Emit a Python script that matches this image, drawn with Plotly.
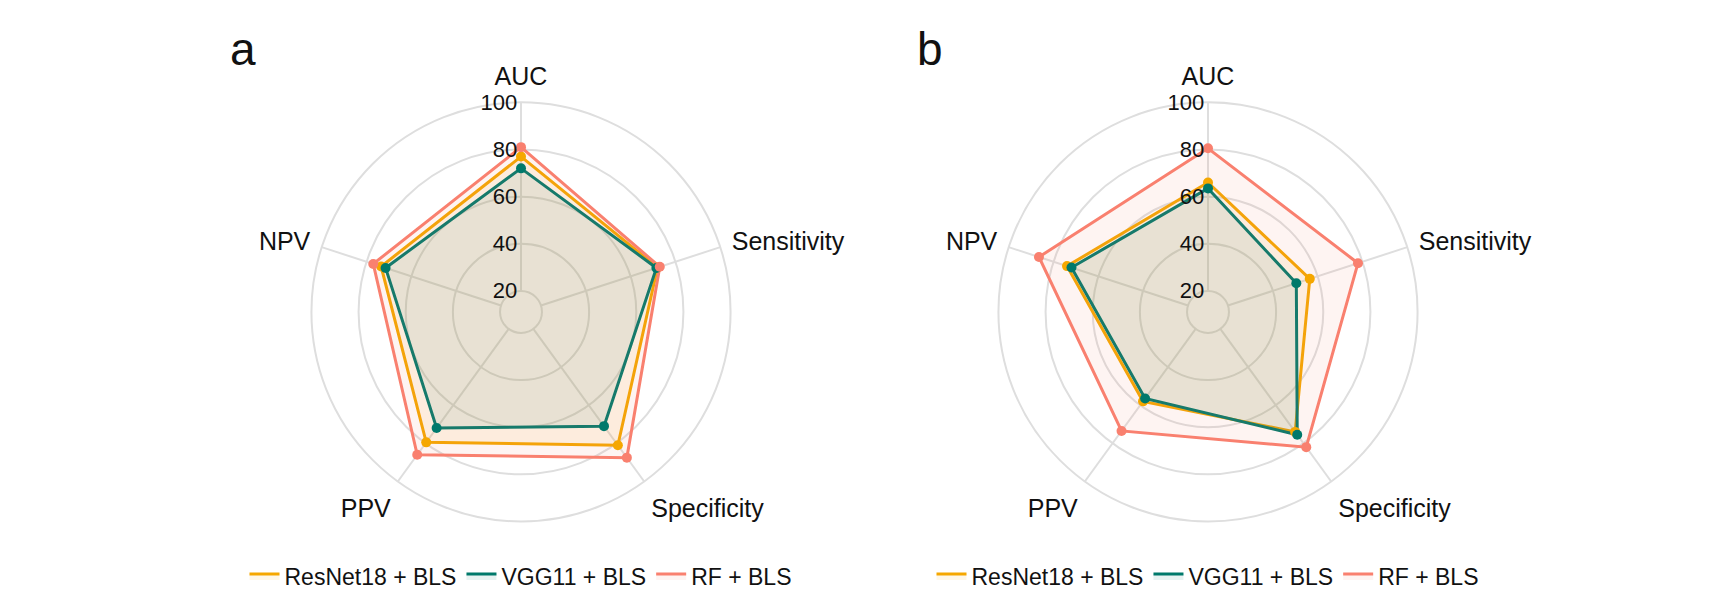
import plotly.graph_objects as go

W, H = 1718, 590

metrics = ["AUC", "Sensitivity", "Specificity", "PPV", "NPV"]
series_names = ["ResNet18 + BLS", "VGG11 + BLS", "RF + BLS"]

# panel a
a_resnet = [77, 72, 81, 79.5, 73.5]
a_vgg = [72, 71.5, 71, 72, 71.5]
a_rf = [81, 73, 87.5, 86, 77]

# panel b
b_resnet = [66, 56.5, 74, 58, 74]
b_vgg = [63.5, 50.5, 75.5, 56.5, 72]
b_rf = [80.5, 78, 82, 73.5, 86.5]

radial_ticks = [20, 40, 60, 80, 100]

colors = ["#F5A700", "#00796B", "#F9806F"]
fill_alpha = 0.09
FONT = "Arial, Liberation Sans, Helvetica, sans-serif"
GRID = "#dedede"


def hex_rgb(h):
    h = h.lstrip("#")
    return tuple(int(h[i:i + 2], 16) for i in (0, 2, 4))


def rgba(h, a):
    r, g, b = hex_rgb(h)
    return f"rgba({r},{g},{b},{a})"


# inner empty ring: the 20-circle sits at 10% of the radius
hole = 0.1
r_min = radial_ticks[0] - (radial_ticks[-1] - radial_ticks[0]) * hole / (1 - hole)

fig = go.Figure()

panels = [
    ("polar", "legend", [a_resnet, a_vgg, a_rf]),
    ("polar2", "legend2", [b_resnet, b_vgg, b_rf]),
]

for sub, leg, data in panels:
    # spokes from the inner circle to the outer circle
    for m in metrics:
        fig.add_trace(go.Scatterpolar(
            r=[radial_ticks[0], radial_ticks[-1]], theta=[m, m], mode="lines",
            line=dict(color=GRID, width=2), subplot=sub, showlegend=False,
            hoverinfo="skip",
        ))
    for si in range(3):
        vals = data[si]
        fig.add_trace(go.Scatterpolar(
            r=vals + [vals[0]], theta=metrics + [metrics[0]],
            mode="lines", fill="toself",
            fillcolor=rgba(colors[si], fill_alpha),
            line=dict(color=colors[si], width=3),
            name=series_names[si], subplot=sub, legend=leg,
            showlegend=True, hoverinfo="skip",
        ))
    for si in range(3):
        fig.add_trace(go.Scatterpolar(
            r=data[si], theta=metrics, mode="markers",
            marker=dict(color=colors[si], size=10),
            name=series_names[si], subplot=sub, showlegend=False,
        ))

# geometry of the polar plots (pixels)
R = 211
cy = 306
centers = [513, 1200]

doms = [dict(x=[(cx - R) / W, (cx + R) / W],
             y=[1 - (cy + R) / H, 1 - (cy - R) / H]) for cx in centers]


def polar_layout(dom):
    return dict(
        domain=dom,
        bgcolor="rgba(0,0,0,0)",
        radialaxis=dict(
            range=[r_min, 100], tickvals=radial_ticks,
            ticktext=[str(t) for t in radial_ticks],
            angle=90, tickangle=90, side="counterclockwise",
            showline=False, ticks="",
            gridcolor=GRID, gridwidth=2,
            tickfont=dict(size=22, color="#111", family=FONT),
        ),
        angularaxis=dict(
            direction="clockwise", rotation=90,
            showline=True, linecolor=GRID, linewidth=2,
            showgrid=False,
            ticks="outside", ticklen=6, tickcolor="rgba(0,0,0,0)",
            tickfont=dict(size=25, color="#111", family=FONT),
        ),
    )


leg_common = dict(orientation="h", xanchor="center", y=1 - 572 / H, yanchor="middle",
                  font=dict(size=23, family=FONT, color="#111"),
                  itemwidth=30, bgcolor="rgba(0,0,0,0)")

label_dx = -278
label_y = 41

fig.update_layout(
    width=W, height=H,
    margin=dict(l=0, r=0, t=0, b=0),
    paper_bgcolor="white", plot_bgcolor="white",
    font=dict(family=FONT, color="#111"),
    polar=polar_layout(doms[0]),
    polar2=polar_layout(doms[1]),
    legend=dict(x=centers[0] / W, **leg_common),
    legend2=dict(x=centers[1] / W, **leg_common),
    annotations=[
        dict(text=t, x=(cx + label_dx) / W, y=1 - label_y / H, xref="paper", yref="paper",
             showarrow=False, font=dict(size=46, family=FONT, color="#111"),
             xanchor="center", yanchor="middle")
        for t, cx in zip(["a", "b"], centers)
    ],
)

fig.write_html("out.html")
